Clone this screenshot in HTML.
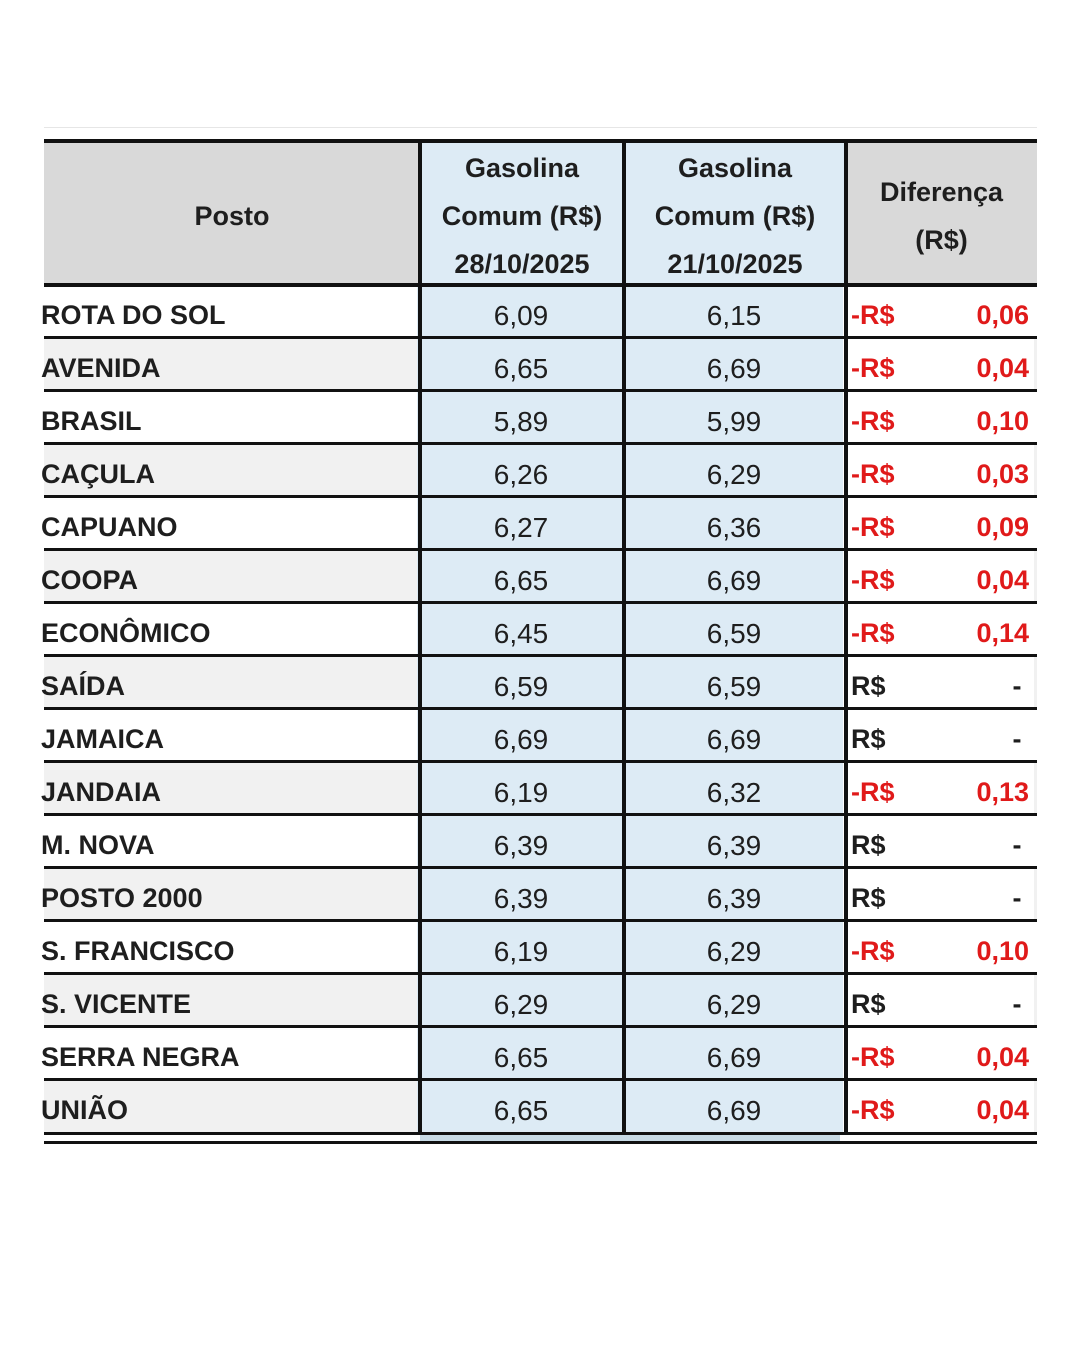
<!DOCTYPE html>
<html><head><meta charset="utf-8"><style>
body{margin:0;width:1080px;height:1350px;background:#fff;position:relative;overflow:hidden;font-family:"Liberation Sans",sans-serif;color:#1e1e1e}
.r{position:absolute;left:44px;width:993px;height:53px;display:flex}
.c{box-sizing:border-box;height:100%;display:flex;align-items:center;overflow:hidden;padding-top:8px}
.c1{width:376px;font-weight:bold;font-size:27px;letter-spacing:0;margin-left:-3px}
.c2{width:204px;background:#ddebf5;justify-content:center;font-size:28px;padding-left:4px}
.c3{width:222px;background:#ddebf5;justify-content:center;font-size:28px;padding-left:4px}
.c4{width:191px;font-size:27px;font-weight:bold;justify-content:space-between;padding:8px 5px 0 8px;color:#e01a1a}
.c4.z{color:#1e1e1e}
.hl{position:absolute;left:44px;width:993px;height:4px;background:#111}
.vl{position:absolute;width:4px;background:#111;top:141px;height:994px}
.g{background:#f1f1f1}
.h{position:absolute;top:141px;height:144px;display:flex;align-items:center;justify-content:center;text-align:center;font-size:27px;line-height:48px;font-weight:bold;padding-top:6px;box-sizing:border-box}
</style></head><body>
<div style="position:absolute;left:44px;top:127px;width:993px;height:1px;background:#e6e6e6"></div>
<div class="h" style="left:44px;width:376px;background:#d9d9d9">Posto</div>
<div class="h" style="left:420px;width:204px;background:#ddebf5">Gasolina<br>Comum (R$)<br>28/10/2025</div>
<div class="h" style="left:624px;width:222px;background:#ddebf5">Gasolina<br>Comum (R$)<br>21/10/2025</div>
<div class="h" style="left:846px;width:191px;background:#d9d9d9">Diferença<br>(R$)</div>

<div class="r" style="top:285px"><div class="c c1">ROTA DO SOL</div><div class="c c2">6,09</div><div class="c c3">6,15</div><div class="c c4"><span>-R$</span><span>0,06</span></div></div>
<div class="r g" style="top:338px"><div class="c c1">AVENIDA</div><div class="c c2">6,65</div><div class="c c3">6,69</div><div class="c c4" style="background:#fff"><span>-R$</span><span>0,04</span></div></div>
<div class="r" style="top:391px"><div class="c c1">BRASIL</div><div class="c c2">5,89</div><div class="c c3">5,99</div><div class="c c4"><span>-R$</span><span>0,10</span></div></div>
<div class="r g" style="top:444px"><div class="c c1">CAÇULA</div><div class="c c2">6,26</div><div class="c c3">6,29</div><div class="c c4" style="background:#fff"><span>-R$</span><span>0,03</span></div></div>
<div class="r" style="top:497px"><div class="c c1">CAPUANO</div><div class="c c2">6,27</div><div class="c c3">6,36</div><div class="c c4"><span>-R$</span><span>0,09</span></div></div>
<div class="r g" style="top:550px"><div class="c c1">COOPA</div><div class="c c2">6,65</div><div class="c c3">6,69</div><div class="c c4" style="background:#fff"><span>-R$</span><span>0,04</span></div></div>
<div class="r" style="top:603px"><div class="c c1">ECONÔMICO</div><div class="c c2">6,45</div><div class="c c3">6,59</div><div class="c c4"><span>-R$</span><span>0,14</span></div></div>
<div class="r g" style="top:656px"><div class="c c1">SAÍDA</div><div class="c c2">6,59</div><div class="c c3">6,59</div><div class="c c4 z" style="background:#fff"><span>R$</span><span>-&nbsp;</span></div></div>
<div class="r" style="top:709px"><div class="c c1">JAMAICA</div><div class="c c2">6,69</div><div class="c c3">6,69</div><div class="c c4 z"><span>R$</span><span>-&nbsp;</span></div></div>
<div class="r g" style="top:762px"><div class="c c1">JANDAIA</div><div class="c c2">6,19</div><div class="c c3">6,32</div><div class="c c4" style="background:#fff"><span>-R$</span><span>0,13</span></div></div>
<div class="r" style="top:815px"><div class="c c1">M. NOVA</div><div class="c c2">6,39</div><div class="c c3">6,39</div><div class="c c4 z"><span>R$</span><span>-&nbsp;</span></div></div>
<div class="r g" style="top:868px"><div class="c c1">POSTO 2000</div><div class="c c2">6,39</div><div class="c c3">6,39</div><div class="c c4 z" style="background:#fff"><span>R$</span><span>-&nbsp;</span></div></div>
<div class="r" style="top:921px"><div class="c c1">S. FRANCISCO</div><div class="c c2">6,19</div><div class="c c3">6,29</div><div class="c c4"><span>-R$</span><span>0,10</span></div></div>
<div class="r g" style="top:974px"><div class="c c1">S. VICENTE</div><div class="c c2">6,29</div><div class="c c3">6,29</div><div class="c c4 z" style="background:#fff"><span>R$</span><span>-&nbsp;</span></div></div>
<div class="r" style="top:1027px"><div class="c c1">SERRA NEGRA</div><div class="c c2">6,65</div><div class="c c3">6,69</div><div class="c c4"><span>-R$</span><span>0,04</span></div></div>
<div class="r g" style="top:1080px"><div class="c c1">UNIÃO</div><div class="c c2">6,65</div><div class="c c3">6,69</div><div class="c c4" style="background:#fff"><span>-R$</span><span>0,04</span></div></div>

<div class="hl" style="top:139px"></div>
<div class="hl" style="top:283px"></div>
<div class="hl" style="top:336px;height:3px"></div>
<div class="hl" style="top:389px;height:3px"></div>
<div class="hl" style="top:442px;height:3px"></div>
<div class="hl" style="top:495px;height:3px"></div>
<div class="hl" style="top:548px;height:3px"></div>
<div class="hl" style="top:601px;height:3px"></div>
<div class="hl" style="top:654px;height:3px"></div>
<div class="hl" style="top:707px;height:3px"></div>
<div class="hl" style="top:760px;height:3px"></div>
<div class="hl" style="top:813px;height:3px"></div>
<div class="hl" style="top:866px;height:3px"></div>
<div class="hl" style="top:919px;height:3px"></div>
<div class="hl" style="top:972px;height:3px"></div>
<div class="hl" style="top:1025px;height:3px"></div>
<div class="hl" style="top:1078px;height:3px"></div>
<div class="hl" style="top:1132px;height:3px"></div>
<div style="position:absolute;left:420px;top:1135px;width:420px;height:6px;background:#c8dbe6"></div>
<div class="hl" style="top:1141px;height:3px"></div>
<div class="vl" style="left:418px"></div>
<div class="vl" style="left:622px"></div>
<div class="vl" style="left:844px"></div>
</body></html>
